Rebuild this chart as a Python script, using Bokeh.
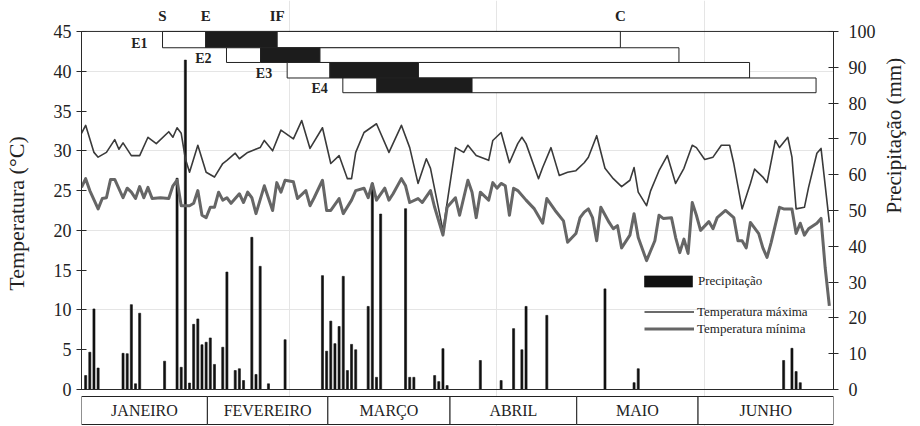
import math
from bokeh.plotting import figure
from bokeh.models import Range1d, LinearAxis, Span, Legend, LegendItem, FixedTicker
from bokeh.core.properties import value
from bokeh.embed import file_html
from bokeh.resources import INLINE

# ---------------- data (day 0 = 1 January) ----------------
tmax_day = [0, 1, 3, 4, 6, 8, 9, 10, 12, 14, 16, 18, 21, 22, 23, 24, 25, 26, 28, 30,
            32, 34, 35, 37, 38, 40, 43, 44, 46, 48, 51, 53, 55, 58, 60, 62, 64, 65, 66, 68,
            71, 74, 77, 79, 81, 83, 84, 87, 90, 92, 93, 95, 98, 99, 101, 103, 105, 106, 107, 110,
            111, 113, 115, 117, 119, 121, 122, 124, 126, 128, 130, 132, 133, 134, 136, 137, 139, 141, 143, 145,
            147, 148, 150, 152, 154, 156, 157, 159, 161, 162, 164, 165, 167, 168, 170, 171, 172, 174, 175, 177,
            178, 180]
tmax = [32.2, 33.2, 29.8, 29.2, 29.8, 31.4, 30.2, 31.0, 29.4, 29.4, 31.7, 30.9, 32.4, 31.7, 32.9, 32.2, 29.0, 27.3, 30.7, 27.3,
        26.7, 28.4, 28.8, 29.7, 29.0, 29.8, 30.4, 31.3, 30.0, 32.6, 31.5, 33.8, 30.3, 32.9, 28.4, 29.4, 26.5, 26.5, 29.8, 32.3,
        33.4, 29.8, 33.2, 30.4, 25.9, 29.0, 27.8, 20.0, 30.4, 29.8, 30.7, 29.4, 28.8, 31.3, 32.3, 28.5, 30.9, 31.7, 30.9, 26.5,
        27.9, 30.4, 26.9, 27.3, 27.5, 28.5, 29.2, 31.9, 27.8, 26.5, 25.5, 26.3, 27.9, 24.8, 23.1, 25.0, 27.5, 29.4, 25.9, 27.8,
        30.7, 30.4, 28.9, 29.2, 30.7, 30.7, 28.4, 22.7, 25.9, 27.7, 26.7, 26.0, 31.3, 30.4, 31.7, 29.2, 22.7, 22.9, 25.4, 29.7,
        30.3, 21.0]

tmin_day = [0, 1, 2, 4, 5, 6, 7, 8, 10, 11, 12, 13, 14, 15, 16, 17, 19, 21, 22, 23,
            24, 26, 27, 28, 29, 30, 31, 32, 33, 34, 35, 36, 38, 39, 40, 41, 42, 44, 46, 47,
            48, 49, 51, 52, 54, 55, 56, 58, 59, 60, 62, 63, 65, 66, 68, 69, 70, 71, 73, 74,
            75, 77, 78, 79, 81, 82, 84, 85, 87, 88, 90, 91, 93, 94, 95, 96, 98, 99, 100, 101,
            102, 103, 104, 105, 107, 109, 111, 112, 114, 116, 117, 119, 120, 121, 122, 123, 124, 125, 127, 128,
            129, 130, 132, 133, 134, 136, 138, 139, 140, 142, 143, 144, 145, 146, 147, 148, 149, 151, 152, 153,
            155, 157, 158, 159, 160, 161, 163, 164, 165, 166, 168, 169, 171, 172, 173, 174, 175, 177, 178, 179,
            180]
tmin = [25.4, 26.5, 25.0, 22.7, 24.0, 24.1, 26.4, 26.4, 24.1, 25.3, 24.8, 24.0, 25.5, 24.1, 25.4, 24.0, 24.1, 24.0, 25.6, 26.3,
        23.1, 23.1, 23.4, 25.0, 21.9, 21.6, 22.9, 22.9, 24.8, 23.8, 24.1, 23.4, 24.6, 23.5, 24.8, 24.1, 22.1, 25.6, 22.5, 26.0,
        24.8, 26.3, 26.1, 24.0, 25.0, 23.1, 24.1, 26.3, 22.5, 22.5, 24.0, 22.1, 23.8, 25.0, 25.3, 24.1, 25.9, 23.8, 25.3, 23.8,
        24.6, 26.5, 25.6, 23.5, 24.0, 23.5, 25.0, 22.9, 19.4, 22.9, 24.1, 21.9, 26.3, 24.8, 21.6, 24.8, 23.8, 26.0, 25.3, 25.9,
        25.6, 21.9, 25.3, 25.0, 23.8, 22.7, 20.9, 24.0, 22.5, 21.2, 18.5, 19.6, 21.6, 22.3, 22.7, 21.6, 18.7, 22.9, 21.0, 20.2,
        20.6, 17.8, 19.4, 22.1, 19.1, 16.2, 18.7, 21.9, 21.5, 21.6, 19.1, 17.2, 18.9, 17.1, 23.5, 21.9, 20.0, 21.1, 20.2, 21.6,
        22.5, 21.6, 18.7, 18.7, 17.8, 21.0, 19.6, 17.8, 16.6, 18.5, 22.9, 22.7, 22.7, 19.6, 20.9, 19.4, 20.2, 20.9, 21.5, 15.3,
        10.5]

rain_day = [1, 2, 3, 4, 10, 11, 12, 13, 14, 20, 23, 24, 25, 26, 27, 28, 29, 30, 31, 32,
            34, 35, 37, 38, 39, 41, 42, 43, 45, 49, 58, 59, 60, 61, 62, 63, 64, 65, 66, 69,
            70, 71, 72, 78, 79, 80, 85, 86, 87, 88, 96, 101, 104, 106, 107, 112, 126, 133, 134, 169,
            171, 172, 173]
rain = [3.9, 10.4, 22.5, 6.0, 10.1, 10.0, 23.7, 1.6, 21.3, 7.9, 59.0, 6.2, 92.0, 1.8, 18.2, 19.7, 12.5, 13.2, 14.4, 7.0,
        11.8, 32.8, 5.3, 5.8, 2.5, 42.5, 4.2, 34.4, 1.6, 13.9, 31.8, 10.7, 19.1, 12.8, 17.6, 31.6, 5.3, 12.6, 11.1, 23.2,
        57.5, 3.4, 49.0, 50.5, 3.4, 3.4, 3.9, 2.2, 11.4, 1.1, 8.1, 2.5, 17.0, 11.1, 23.2, 20.7, 28.1, 1.9, 5.8, 8.1,
        11.5, 5.0, 1.9]

# sowing dates (S), emergence (E), start of flowering (IF), harvest (C), in days
entries = ["E1", "E2", "E3", "E4"]
sow = [19.5, 34.9, 49.5, 62.9]
emerg = [29.9, 43.1, 59.8, 71.1]
flower = [47.1, 57.4, 81.1, 94.0]
harvest = [129.7, 143.8, 160.8, 176.8]
phase_labels = ["S", "E", "IF", "C"]

months = ["JANEIRO", "FEVEREIRO", "MARÇO", "ABRIL", "MAIO", "JUNHO"]
month_edges = [0, 30.3, 59.3, 88.7, 119.2, 148.4, 181]

temp_ticks = [0, 5, 10, 15, 20, 25, 30, 35, 40, 45]
rain_ticks = [0, 10, 20, 30, 40, 50, 60, 70, 80, 90, 100]

# ---------------- figure ----------------
FONT = "Liberation Serif"
Y0, Y1 = -4.65, 48.89
p = figure(width=920, height=426, output_backend="svg", toolbar_location=None,
           x_range=Range1d(0, 181), y_range=Range1d(Y0, Y1),
           x_axis_location=None, y_axis_location=None,
           min_border_left=80, min_border_right=84, min_border_top=0, min_border_bottom=0)
p.outline_line_color = None
p.background_fill_color = "white"
p.border_fill_color = "white"
p.extra_y_ranges = {"precip": Range1d(Y0 * 100 / 45, Y1 * 100 / 45)}

AX = "#2a2a2a"

def style_axis(ax):
    ax.axis_line_color = AX
    ax.major_tick_line_color = AX
    ax.major_tick_in = 5
    ax.major_tick_out = 5
    ax.minor_tick_line_color = None
    ax.major_label_text_font = FONT
    ax.major_label_text_font_size = "18px"
    ax.major_label_text_color = "#222"
    ax.axis_label_text_font = FONT
    ax.axis_label_text_font_size = "22px"
    ax.axis_label_text_font_style = "normal"
    ax.axis_label_text_color = "#222"

yl = LinearAxis(ticker=FixedTicker(ticks=temp_ticks), bounds=(0, 45), axis_label="Temperatura (°C)")
style_axis(yl)
yl.major_label_standoff = 5
yl.axis_label_standoff = 22
p.add_layout(yl, "left")

yr = LinearAxis(y_range_name="precip", ticker=FixedTicker(ticks=rain_ticks), bounds=(0, 100),
                axis_label="Precipitação (mm)")
style_axis(yr)
yr.axis_label_text_font_size = "21px"
yr.major_label_standoff = 10
yr.axis_label_standoff = 15
if "axis_label_orientation" in yr.properties():
    yr.axis_label_orientation = math.pi / 2
p.add_layout(yr, "right")

p.add_layout(Span(location=45, dimension="width", line_color=AX, line_width=1))
p.add_layout(Span(location=0, dimension="width", line_color=AX, line_width=1))

# precipitation bars
r_bar = p.vbar(x=rain_day, top=rain, bottom=0, width=0.5, y_range_name="precip",
               fill_color="#111", line_color="#111", line_width=0.6)

# temperature lines
r_max = p.line(tmax_day, tmax, line_color="#3a3a3a", line_width=1.6, line_join="round")
r_min = p.line(tmin_day, tmin, line_color="#666666", line_width=3, line_join="round")

# crop cycle bars
row_edges = [45.0, 42.95, 41.1, 39.15, 37.3]
ql, qr, qt, qb, qc = [], [], [], [], []
for i in range(len(entries)):
    bounds = [sow[i], emerg[i], flower[i], harvest[i]]
    for k, col in enumerate(["white", "#1c1c1c", "white"]):
        ql.append(bounds[k]); qr.append(bounds[k + 1])
        qt.append(row_edges[i]); qb.append(row_edges[i + 1]); qc.append(col)
p.quad(left=ql, right=qr, top=qt, bottom=qb, fill_color=qc, line_color="#222", line_width=1)

p.text(x=[sow[0], emerg[0], flower[0], harvest[0]], y=[47.0] * 4, text=phase_labels,
       text_font=value(FONT), text_font_style="bold", text_font_size="15px",
       text_align="center", text_baseline="middle", text_color="#222")
p.text(x=sow, y=[row_edges[i + 1] + 0.55 for i in range(len(entries))], text=entries,
       x_offset=-15, text_font=value(FONT), text_font_style="bold", text_font_size="14px",
       text_align="right", text_baseline="middle", text_color="#222")

# month boxes
mb_top, mb_bot = -0.88, -4.4
p.quad(left=month_edges[:-1], right=month_edges[1:], top=mb_top, bottom=mb_bot,
       fill_color="white", line_color="#222", line_width=1)
p.text(x=[(a + b) / 2 for a, b in zip(month_edges[:-1], month_edges[1:])],
       y=[(mb_top + mb_bot) / 2] * len(months), text=months,
       text_font=value(FONT), text_font_size="16px", text_align="center",
       text_baseline="middle", text_color="#222")

# legend
def add_leg(label, r, x, y, gw, gh, standoff):
    leg = Legend(items=[LegendItem(label=label, renderers=[r])], location=(x, y),
                 glyph_width=gw, glyph_height=gh, label_height=gh, label_standoff=standoff,
                 padding=0, margin=0, spacing=0, border_line_color=None,
                 background_fill_alpha=0, label_text_font=FONT,
                 label_text_font_size="13px", label_text_color="#222")
    p.add_layout(leg)

add_leg("Precipitação", r_bar, 557, 137, 60, 14, 0)
add_leg("Temperatura máxima", r_max, 563, 106.5, 50, 11, 3)
add_leg("Temperatura mínima", r_min, 563, 89.5, 50, 11, 3)

open("out.html", "w").write(file_html(p, INLINE))
